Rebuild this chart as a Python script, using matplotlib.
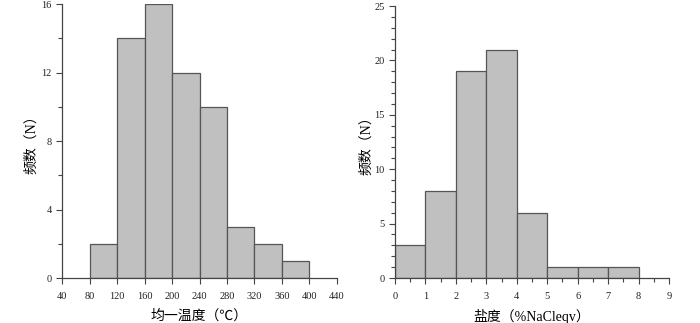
import matplotlib
matplotlib.use("Agg")
import matplotlib.pyplot as plt
from matplotlib.ticker import MultipleLocator
import numpy as np

# Left: homogenization temperature histogram
temp_edges = [80, 120, 160, 200, 240, 280, 320, 360, 400]
temp_counts = [2, 14, 16, 12, 10, 3, 2, 1]
temp_xticks = [40, 80, 120, 160, 200, 240, 280, 320, 360, 400, 440]
temp_yticks = [0, 4, 8, 12, 16]

# Right: salinity histogram
sal_edges = [0, 1, 2, 3, 4, 5, 6, 7, 8]
sal_counts = [3, 8, 19, 21, 6, 1, 1, 1]
sal_xticks = [0, 1, 2, 3, 4, 5, 6, 7, 8, 9]
sal_yticks = [0, 5, 10, 15, 20, 25]

plt.rcParams['font.family'] = ['Liberation Serif', 'Noto Sans CJK SC']
fig = plt.figure(figsize=(7.0, 3.23), dpi=100)

face = '#c0c0c0'
edge = '#555555'
axcol = '#444444'

def style(ax):
    for s in ['top', 'right']:
        ax.spines[s].set_visible(False)
    for s in ['left', 'bottom']:
        ax.spines[s].set_color(axcol)
        ax.spines[s].set_linewidth(0.9)
    ax.tick_params(axis='both', which='both', colors=axcol, labelcolor='#222222',
                   labelsize=7.5, width=0.8)
    ax.tick_params(axis='both', which='major', length=4)
    ax.tick_params(axis='both', which='minor', length=3)
    ax.tick_params(axis='x', pad=6)

ax1 = fig.add_axes([0.0886, 0.1393, 0.3928, 0.8483])
lefts = temp_edges[:-1]
widths = np.diff(temp_edges)
ax1.bar(lefts, temp_counts, width=widths, align='edge', color=face,
        edgecolor=edge, linewidth=0.9)
ax1.set_xlim(40, 440)
ax1.set_ylim(0, 16)
ax1.set_xticks(temp_xticks)
ax1.set_yticks(temp_yticks)
ax1.yaxis.set_minor_locator(MultipleLocator(2))
style(ax1)
ax1.set_xlabel('均一温度（℃）', fontsize=10, labelpad=6)
ax1.set_ylabel('频数（N）', fontsize=10, labelpad=2.5)

ax2 = fig.add_axes([0.5643, 0.1393, 0.3914, 0.8421])
lefts2 = sal_edges[:-1]
widths2 = np.diff(sal_edges)
ax2.bar(lefts2, sal_counts, width=widths2, align='edge', color=face,
        edgecolor=edge, linewidth=0.9)
ax2.set_xlim(0, 9)
ax2.set_ylim(0, 25)
ax2.set_xticks(sal_xticks)
ax2.set_yticks(sal_yticks)
ax2.xaxis.set_minor_locator(MultipleLocator(0.5))
ax2.yaxis.set_minor_locator(MultipleLocator(1))
style(ax2)
ax2.set_xlabel('盐度（%NaCleqv）', fontsize=10, labelpad=6)
ax2.set_ylabel('频数（N）', fontsize=10, labelpad=1)

fig.savefig('out.png', dpi=100, facecolor='white')
